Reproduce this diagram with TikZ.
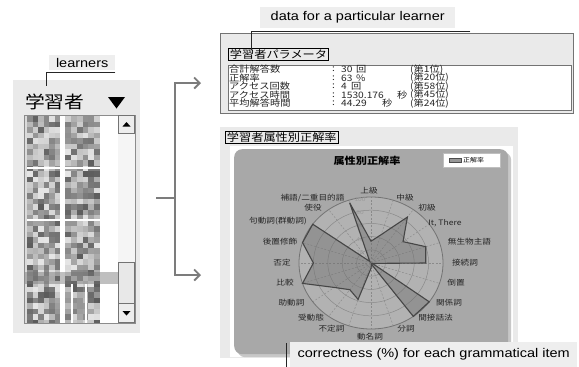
\documentclass[tikz,border=0pt]{standalone}
\usepackage{fontspec}
\setmainfont{Liberation Sans}[FakeStretch=1.15]
\newfontfamily\jp{Noto Sans CJK JP}[FakeStretch=1.15]
\usetikzlibrary{arrows.meta}
\definecolor{panelbg}{HTML}{EAEAEA}
\definecolor{lblbg}{HTML}{EEEEEE}
\definecolor{chartbg}{HTML}{A8A8A8}
\definecolor{chartin}{HTML}{B2B2B2}
\definecolor{gridc}{HTML}{8A8A8A}
\definecolor{polyfill}{HTML}{6A6A6A}
\definecolor{polyline}{HTML}{464646}
\definecolor{arrowc}{HTML}{7C7C7C}
\begin{document}
\begin{tikzpicture}[x=1pt,y=-1pt,
  lbl/.style={fill=lblbg, inner sep=0pt, font=\fontsize{12.6}{14}\selectfont},
  leader/.style={draw=black!85, line width=0.7pt},
  branch/.style={draw=arrowc, line width=1.8pt},
  tabtxt/.style={font=\jp\fontsize{8.9}{9}\selectfont, inner sep=0pt, text=black!85},
  axl/.style={font=\jp\fontsize{7.5}{8}\selectfont, inner sep=0pt, text=black!85},
  tick/.style={font=\fontsize{5.6}{6}\selectfont, inner sep=0pt, text=black!40},
  boxtitle/.style={draw=black, line width=0.9pt, font=\jp\fontsize{10.6}{11}\selectfont, inner xsep=1.5pt, inner ysep=1.2pt, anchor=north west},
  plainbox/.style={inner sep=0pt, anchor=north west}
]
\useasboundingbox (0,0) rectangle (579,367);
\fill[white] (0,0) rectangle (579,367);

% ---------------- learner panel ----------------
\node[plainbox, fill=panelbg, minimum width=127pt, minimum height=253pt] (learnpanel) at (13,80) {};
\node[font=\jp\fontsize{17.2}{18}\selectfont, inner sep=0pt, anchor=west] (learnhead) at (25,102) {学習者};
\fill[black] (108,97) -- (125,97) -- (116.5,108.5) -- cycle;
\node[plainbox, fill=white, draw=black!45, line width=0.5pt, minimum width=111pt, minimum height=208pt] (listbox) at (24,115) {};
\begin{scope}
\clip (24.5,115.5) rectangle (118,322.5);
\fill[black!14] (24.5,115.5) rectangle (27,322.5);
\pgfmathsetseed{11}
\foreach \r in {0,...,37}{
  \foreach \c in {0,...,5}{
    \pgfmathsetmacro\g{int(10+55*rnd)}
    \fill[black!\g] ({27+\c*5.5},{116+\r*5.5}) rectangle ++(5.5,5.5);
  }
  \foreach \c in {0,...,5}{
    \pgfmathsetmacro\g{int(10+55*rnd)}
    \fill[black!\g] ({65+\c*5.85},{116+\r*5.5}) rectangle ++(5.85,5.5);
  }
}
\fill[white] (27,166.5) rectangle (101,169);
\fill[white] (27,218.5) rectangle (101,221);
\fill[white] (70.5,284) rectangle (72.5,323);
\fill[white] (84.5,284) rectangle (86.5,323);
\fill[black!55, fill opacity=0.45] (24.5,272) rectangle (118,283.5);
\end{scope}
% scrollbar
\fill[black!4] (118,115.5) rectangle (134.5,322.5);
\draw[fill=black!7, draw=black!55, line width=0.5pt] (118.5,115.5) rectangle (134.5,133);
\fill[black] (122.5,126.5) -- (130.5,126.5) -- (126.5,122) -- cycle;
\draw[fill=black!9, draw=black!55, line width=0.5pt] (118.5,262) rectangle (134.5,303);
\draw[fill=black!7, draw=black!55, line width=0.5pt] (118.5,303) rectangle (134.5,322.5);
\fill[black] (122.5,311) -- (130.5,311) -- (126.5,315.5) -- cycle;

% learners label
\node[lbl, plainbox, minimum width=66pt, minimum height=15pt] (learnlbl) at (49,55) {learners};
\coordinate (learnpt) at (46,86);
\draw[leader] ([yshift=-2pt]learnlbl.south east) -| (learnpt);

% ---------------- branching arrows ----------------
\coordinate (brL) at (156,198);
\coordinate (brM) at (175,198);
\coordinate (brTop) at (201,83);
\coordinate (brBot) at (201,275);
\draw[branch] (brL) -- (brM);
\draw[branch, -{Straight Barb[length=5.5pt,width=11pt]}] (brM) |- (brTop);
\draw[branch, -{Straight Barb[length=5.5pt,width=11pt]}] (brM) |- (brBot);

% ---------------- parameter panel ----------------
\node[plainbox, fill=panelbg, draw=black!55, line width=0.7pt, minimum width=353pt, minimum height=80pt] (parampanel) at (220,33) {};
\node[boxtitle, fill=panelbg] (paramtitle) at (228,48) {学習者パラメータ};
\node[plainbox, fill=white, draw=black!55, line width=0.6pt, minimum width=343pt, minimum height=45pt] (paramtable) at (228,65) {};
\foreach \i/\yy/\lab/\val/\ux/\unit/\rank in {
  1/69.5/合計解答数/30/356/回/1,
  2/78/正解率/63/356/\%/20,
  3/86.5/アクセス回数/4/351/回/58,
  4/95/アクセス時間/1530.176/397/秒/45,
  5/103.5/平均解答時間/44.29/382/秒/24}{
  \node[tabtxt, anchor=west] (rowlab\i) at (229,\yy) {\lab};
  \node[tabtxt, anchor=west] (rowcol\i) at (332,\yy) {:};
  \node[tabtxt, anchor=west] (rowval\i) at (341,\yy) {\val};
  \node[tabtxt, anchor=west] (rowunit\i) at (\ux,\yy) {\unit};
  \node[tabtxt, anchor=west] (rowrank\i) at (410,\yy) {(第{\rank}位)};
}

% data label
\node[lbl, plainbox, minimum width=195pt, minimum height=21pt] (datalbl) at (260,7) {data for a particular learner};
\coordinate (datapt) at (251,50);
\draw[leader] ([xshift=15pt,yshift=-3pt]datalbl.south east) -| (datapt);

% ---------------- chart panel ----------------
\node[plainbox, fill=panelbg, minimum width=298pt, minimum height=231pt] (chartpanel) at (220,127) {};
\node[boxtitle, fill=panelbg] (charttitle) at (225,131) {学習者属性別正解率};
\node[plainbox, fill=white, minimum width=283pt, minimum height=211pt] (chartwhite) at (230,146) {};
\node[plainbox, fill=black!22, rounded corners=8pt, minimum width=274pt, minimum height=205pt] (chartshadow) at (237,152) {};
\node[plainbox, fill=chartbg, rounded corners=8pt, minimum width=274pt, minimum height=205pt] (chartarea) at (234,149) {};

\node[font=\jp\bfseries\fontsize{9.7}{10}\selectfont, inner sep=0pt] (radartitle) at (367,161) {属性別正解率};
\node[plainbox, fill=white, draw=black!25, line width=0.4pt, minimum width=57pt, minimum height=14pt] (legendbox) at (443,153) {};
\fill[polyfill!70, draw=black!70, line width=0.5pt] (449,158.5) rectangle (461,162.5);
\node[font=\jp\fontsize{6}{6}\selectfont, inner sep=0pt, anchor=west] (legendtxt) at (463,160.5) {正解率};

% radar grid
\coordinate (rc) at (371,263);
\fill[chartin] (rc) ellipse [x radius=72pt, y radius=66pt];
\foreach \r in {20,40,60,80}{
  \draw[gridc, line width=0.5pt] (rc) ellipse [x radius={0.72*\r pt}, y radius={0.66*\r pt}];
}
\foreach \i in {0,...,19}{
  \draw[gridc, line width=0.45pt, dash pattern=on 2pt off 1.6pt] (rc) -- ++({72*sin(18*\i)},{-66*cos(18*\i)});
}
\draw[black!55, line width=0.8pt] (rc) ellipse [x radius=72pt, y radius=66pt];
\foreach \v in {100,80,60,40,20}{
  \node[tick] (tk\v) at (360,{263-0.66*\v+2.5}) {\v};
}

% radar polygon
\begin{scope}[shift={(371,263)}, x=0.72pt, y=0.66pt]
\draw[polyline, line width=1.1pt, line join=miter, fill=polyfill, fill opacity=0.42]
  (90:33) -- (72:45) -- (54:86) -- (36:55) -- (18:80) -- (0:76) -- (-18:2)
  -- (-36:100) -- (-54:100) -- (-72:2) -- (-90:8) -- (-108:58) -- (-126:50)
  -- (-144:63) -- (-162:100) -- (-180:80) -- (-198:100) -- (-216:100)
  -- (-234:3) -- (-252:96) -- cycle;
\end{scope}

% axis labels
\foreach \n/\px/\py/\t in {
  1/369/191/上級, 2/405/198/中級, 3/427/208/初級, 4/445/223/{It, There},
  5/469.5/242/無生物主語, 6/465/263/接続詞, 7/456/283/倒置, 8/449/302.5/関係詞,
  9/435.5/318/間接話法, 10/406/329/分詞, 11/370/336.5/動名詞, 12/331.5/329/不定詞,
  13/311/318/受動態, 14/291.5/302.5/助動詞, 15/285/283/比較, 16/282/263/否定,
  17/280/242/後置修飾, 18/278/221.5/句動詞(群動詞), 19/313/208/使役,
  20/312.5/198/{補語/二重目的語}}{
  \node[axl] (ax\n) at (\px,\py) {\t};
}

% correctness label
\node[lbl, plainbox, minimum width=287pt, minimum height=25pt] (corrlbl) at (290,342) {correctness (\%) for each grammatical item};
\draw[leader] ([xshift=-4pt]corrlbl.south west) -- ([xshift=-4pt,yshift=-1pt]corrlbl.north west);
\end{tikzpicture}
\end{document}
